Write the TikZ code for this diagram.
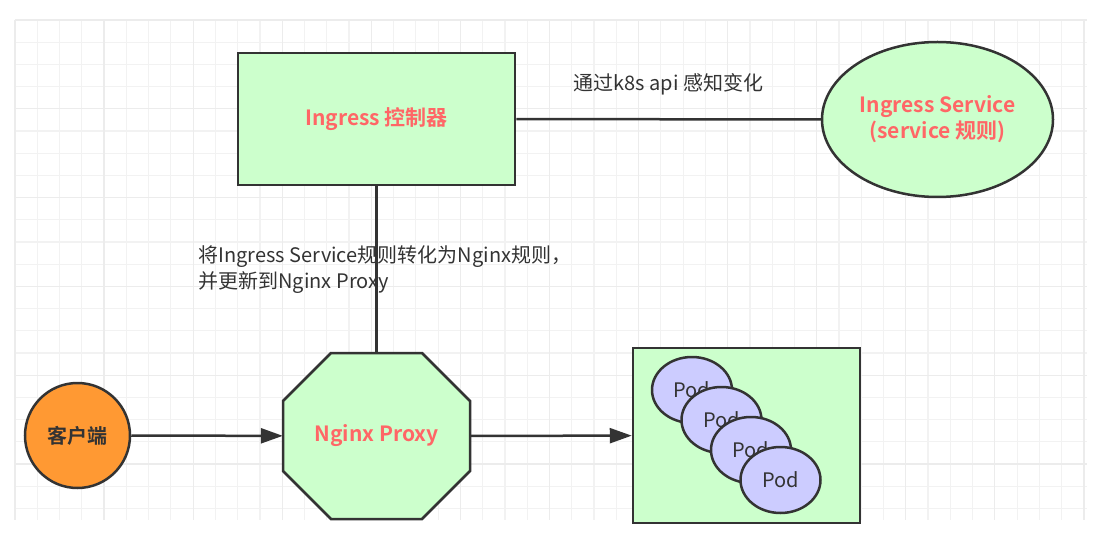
\documentclass[tikz,border=0pt]{standalone}
\usepackage{fontspec}
\setmainfont{Noto Sans CJK SC}[BoldFont={Noto Sans CJK SC Bold}]
\usetikzlibrary{arrows.meta,shapes.geometric}

\definecolor{boxgreen}{HTML}{CCFFCC}
\definecolor{podblue}{HTML}{CCCCFF}
\definecolor{clientorange}{HTML}{FF9933}
\definecolor{titlered}{HTML}{FF6666}
\definecolor{linegray}{HTML}{333333}
\definecolor{gridminor}{HTML}{F2F2F2}
\definecolor{gridmajor}{HTML}{ECECEC}

\begin{document}
\begin{tikzpicture}[x=1pt, y=-1pt,
    every node/.style={font=\fontsize{20}{26}\selectfont, text=linegray},
    greenbox/.style={draw=linegray, line width=2.5pt, fill=boxgreen},
    redtitle/.style={text=titlered, font=\fontsize{21}{26}\selectfont\bfseries, align=center},
    podnode/.style={ellipse, draw=linegray, line width=2.5pt, fill=podblue,
        minimum width=80pt, minimum height=66pt, inner sep=0pt, font=\fontsize{20}{22}\selectfont},
    link/.style={draw=linegray, line width=2.5pt},
    flow/.style={link, -{Triangle[length=22pt, width=15pt]}}]

    \useasboundingbox (0,0) rectangle (1103,548);

    % background grid
    \foreach \i in {0,...,48} {
        \draw[gridminor, line width=1.2pt] (15+22.27*\i,20) -- (15+22.27*\i,520);
    }
    \foreach \j in {0,...,22} {
        \draw[gridminor, line width=1.2pt] (15,20+22.2*\j) -- (1087,20+22.2*\j);
    }
    \foreach \i in {0,4,...,48} {
        \draw[gridmajor, line width=1.2pt] (15+22.27*\i,20) -- (15+22.27*\i,520);
    }
    \foreach \j in {0,4,...,20} {
        \draw[gridmajor, line width=1.2pt] (15,20+22.2*\j) -- (1087,20+22.2*\j);
    }

    % ingress controller and service
    \node[greenbox, redtitle, minimum width=277pt, minimum height=132pt] (ctrl) at (376.5,119) {Ingress 控制器};
    \node[greenbox, redtitle, ellipse, minimum width=231pt, minimum height=155pt] (svc) at (937.5,119.5)
        {Ingress Service\\(service 规则)};

    \draw[link] (ctrl) -- (svc) node[midway, above=20pt] (watch) {通过k8s api 感知变化};

    % nginx proxy (octagon)
    \filldraw[greenbox] (331,353) -- (422,353) -- (470,401) -- (470,471) -- (422,519)
        -- (331,519) -- (283,471) -- (283,401) -- cycle;
    \node[redtitle, minimum width=187pt, minimum height=166pt] (proxy) at (376.5,436) {Nginx Proxy};

    \draw[link] (ctrl) -- (proxy);
    \node[anchor=west, align=left] (rule) at (195,270) {将Ingress Service规则转化为Nginx规则，\\并更新到Nginx Proxy};

    % client
    \node[circle, draw=linegray, line width=2.5pt, fill=clientorange, minimum size=105pt, inner sep=0pt,
        font=\fontsize{20}{22}\selectfont\bfseries] (client) at (77.5,435.5) {客户端};

    % pods
    \node[greenbox, minimum width=227pt, minimum height=175pt] (pods) at (746.5,435.5) {};
    \foreach \k in {0,...,3} {
        \node[podnode] (pod\k) at (692+29.5*\k,390+30*\k) {Pod};
    }

    \draw[flow] (client) -- (proxy);
    \draw[flow] (proxy) -- (pods);

\end{tikzpicture}
\end{document}
